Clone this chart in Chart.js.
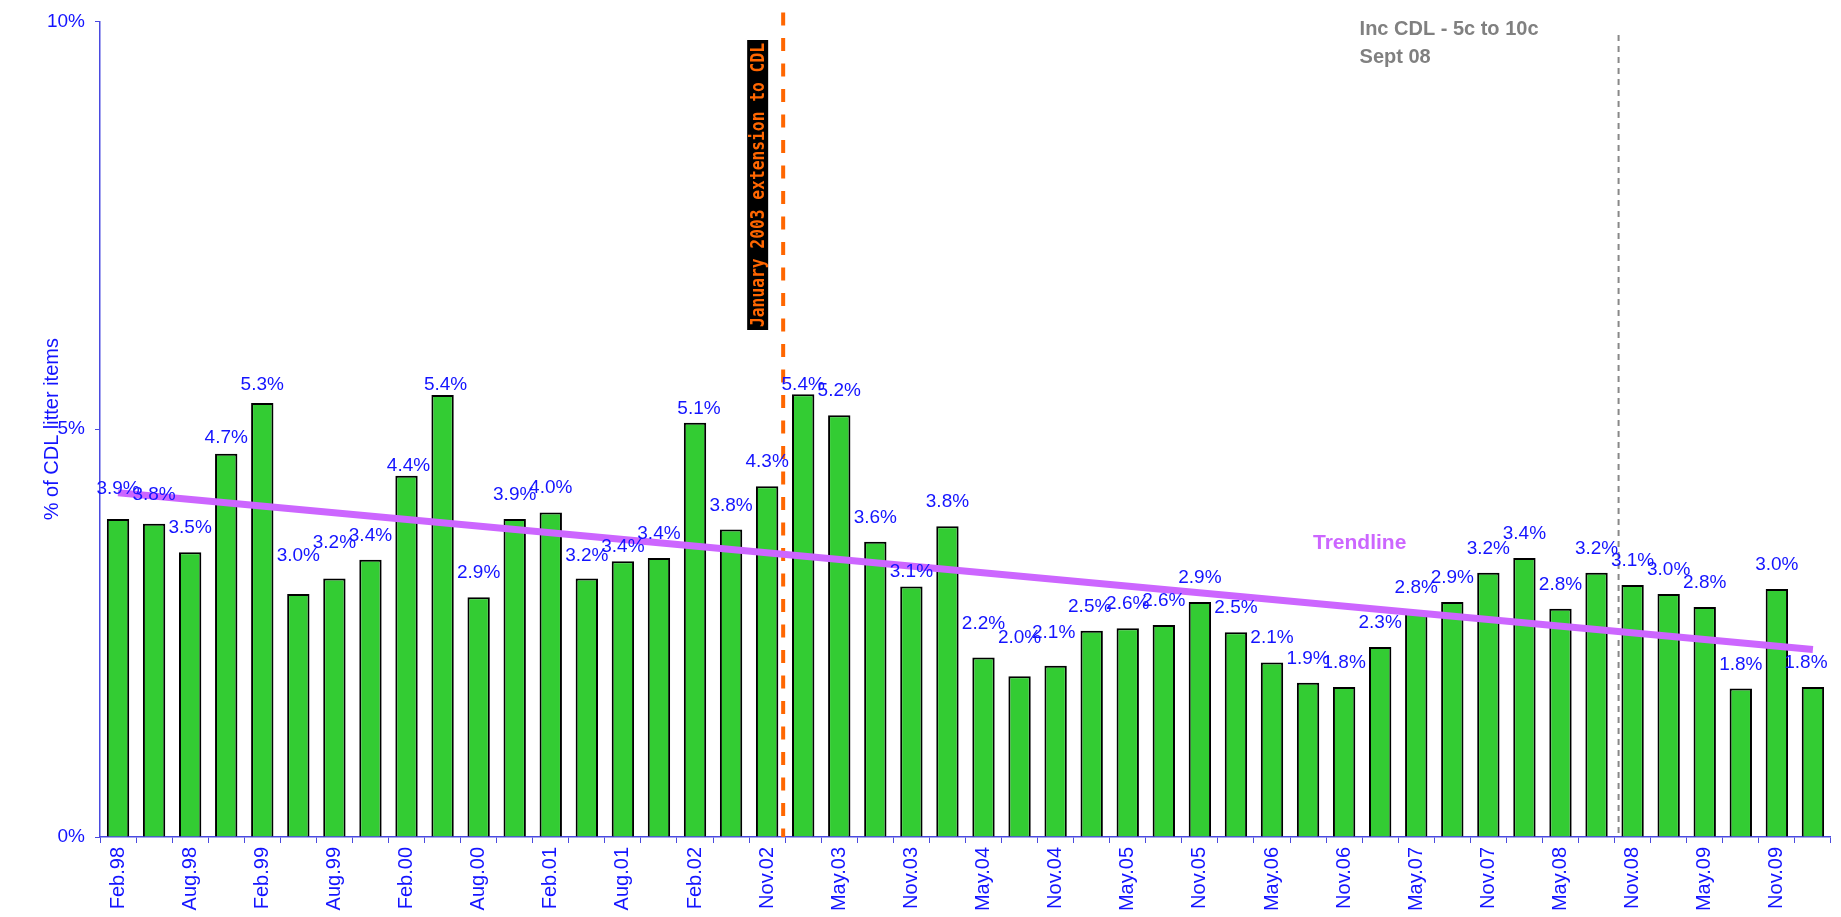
<!DOCTYPE html>
<html>
<head>
<meta charset="utf-8">
<script src="https://cdn.jsdelivr.net/npm/chart.js@4.4.1/dist/chart.umd.min.js"></script>
<style>
  html, body { margin: 0; padding: 0; background: #fff; }
  #wrap { width: 1841px; height: 917px; }
</style>
</head>
<body>
<div id="wrap"><canvas id="chart" width="1841" height="917"></canvas></div>
<script>
// survey dates (only every second one is labelled on the axis)
const surveyLabels = [
  'Feb.98', 'May.98', 'Aug.98', 'Nov.98', 'Feb.99', 'May.99', 'Aug.99', 'Nov.99',
  'Feb.00', 'May.00', 'Aug.00', 'Nov.00', 'Feb.01', 'May.01', 'Aug.01', 'Nov.01',
  'Feb.02', 'Jun.02', 'Nov.02', 'Feb.03', 'May.03', 'Aug.03', 'Nov.03', 'Feb.04',
  'May.04', 'Aug.04', 'Nov.04', 'Feb.05', 'May.05', 'Aug.05', 'Nov.05', 'Feb.06',
  'May.06', 'Aug.06', 'Nov.06', 'Feb.07', 'May.07', 'Aug.07', 'Nov.07', 'Feb.08',
  'May.08', 'Aug.08', 'Nov.08', 'Feb.09', 'May.09', 'Aug.09', 'Nov.09', 'Feb.10'
];

// % of CDL litter items
const cdlShare = [
  3.90, 3.84, 3.49, 4.70, 5.32, 2.98, 3.17, 3.40, 4.43, 5.42, 2.94, 3.90,
  3.98, 3.17, 3.38, 3.42, 5.08, 3.77, 4.30, 5.43, 5.17, 3.62, 3.07, 3.81,
  2.20, 1.97, 2.10, 2.53, 2.56, 2.60, 2.88, 2.51, 2.14, 1.89, 1.84, 2.33,
  2.76, 2.88, 3.24, 3.42, 2.80, 3.24, 3.09, 2.98, 2.82, 1.82, 3.04, 1.84
];

// trendline end points, gaps are joined
const trendValues = surveyLabels.map(() => null);
trendValues[0] = 4.22;
trendValues[surveyLabels.length - 1] = 2.30;

const yTicks = [0, 5, 10];

const BLUE = '#1414ff';
const AXIS_BLUE = '#4a4ae0';
const FONT = '"Liberation Sans", Arial, sans-serif';

// hand-placed value labels in the original: [dx, dy] px from the default spot
const labelNudge = {
  0: [0, -6], 1: [0, -5], 3: [0, 8], 4: [0, 6], 5: [0, -14], 6: [0, -11],
  8: [2, 14], 9: [3, 14], 13: [0, 2], 14: [0, 10], 16: [4, 10], 19: [0, 15],
  22: [0, 9], 24: [0, -10], 25: [0, -14], 26: [-2, -9], 27: [-2, 0], 47: [-7, 0]
};

// bar value labels, event lines and notes
const overlayPlugin = {
  id: 'overlay',
  beforeDatasetsDraw(chart) {
    const ctx = chart.ctx;
    const x = chart.scales.x;
    const area = chart.chartArea;

    // January 2003 extension (between Nov.02 and Feb.03)
    const xJan = (x.getPixelForValue(18) + x.getPixelForValue(19)) / 2 - 2;
    ctx.save();
    ctx.strokeStyle = '#ff6600';
    ctx.lineWidth = 4;
    ctx.setLineDash([13, 12.5]);
    ctx.beginPath();
    ctx.moveTo(xJan, area.top - 9);
    ctx.lineTo(xJan, area.bottom);
    ctx.stroke();

    ctx.setLineDash([]);
    ctx.fillStyle = '#000';
    ctx.fillRect(xJan - 36, 40, 21, 290);
    ctx.translate(xJan - 25.5, 185);
    ctx.rotate(-Math.PI / 2);
    ctx.font = 'bold 20px "DejaVu Sans Mono"';
    const note = 'January 2003 extension to CDL';
    ctx.scale(284 / ctx.measureText(note).width, 1);
    ctx.fillStyle = '#ff6600';
    ctx.textAlign = 'center';
    ctx.textBaseline = 'middle';
    ctx.fillText(note, 0, 1);
    ctx.restore();

    // Sept 08 increase
    const xSep = (x.getPixelForValue(41) + x.getPixelForValue(42)) / 2 + 4;
    ctx.save();
    ctx.strokeStyle = '#888';
    ctx.lineWidth = 2;
    ctx.setLineDash([6, 5]);
    ctx.beginPath();
    ctx.moveTo(xSep, 35);
    ctx.lineTo(xSep, area.bottom);
    ctx.stroke();
    ctx.setLineDash([]);
    ctx.fillStyle = '#808080';
    ctx.font = 'bold 20px ' + FONT;
    ctx.textAlign = 'left';
    ctx.textBaseline = 'alphabetic';
    ctx.fillText('Inc CDL - 5c to 10c', xSep - 259, 35);
    ctx.fillText('Sept 08', xSep - 259, 63);
    ctx.restore();
  },
  afterDatasetsDraw(chart) {
    const ctx = chart.ctx;
    const bars = chart.getDatasetMeta(1).data;
    ctx.save();
    ctx.fillStyle = BLUE;
    ctx.font = '19px ' + FONT;
    ctx.textAlign = 'center';
    ctx.textBaseline = 'alphabetic';
    bars.forEach((bar, i) => {
      const [dx, dy] = labelNudge[i] || [0, 0];
      ctx.fillText(cdlShare[i].toFixed(1) + '%', bar.x + dx, bar.y - 19 + dy);
    });

    ctx.fillStyle = '#cc66ff';
    ctx.font = 'bold 21px ' + FONT;
    ctx.textAlign = 'left';
    ctx.fillText('Trendline', 1313, 549);
    ctx.restore();
  }
};

new Chart(document.getElementById('chart'), {
  type: 'bar',
  data: {
    labels: surveyLabels,
    datasets: [
      {
        type: 'line',
        label: 'Trendline',
        data: trendValues,
        borderColor: '#cc66ff',
        borderWidth: 7,
        pointRadius: 0,
        spanGaps: true,
        order: 0
      },
      {
        label: '% of CDL litter items',
        data: cdlShare,
        backgroundColor: '#33cc33',
        borderColor: '#000',
        borderWidth: 2,
        barPercentage: 0.62,
        categoryPercentage: 1,
        order: 1
      }
    ]
  },
  options: {
    responsive: false,
    animation: false,
    layout: { padding: { top: 16, right: 8, left: 0, bottom: 0 } },
    plugins: {
      legend: { display: false },
      tooltip: { enabled: false }
    },
    scales: {
      x: {
        afterFit: s => { s.height = 80; },
        grid: { drawOnChartArea: false, drawTicks: true, tickLength: 6, color: AXIS_BLUE },
        border: { color: AXIS_BLUE, width: 1.5 },
        ticks: {
          autoSkip: false,
          maxRotation: 90,
          minRotation: 90,
          padding: 4,
          color: BLUE,
          font: { family: FONT, size: 20 },
          callback: (v, i) => (i % 2 === 0 ? surveyLabels[i] : '')
        }
      },
      y: {
        min: 0,
        max: 10,
        afterFit: s => { s.width = 100; },
        afterBuildTicks: s => { s.ticks = yTicks.map(v => ({ value: v })); },
        grid: { drawOnChartArea: false, drawTicks: true, tickLength: 5, color: AXIS_BLUE },
        border: { color: AXIS_BLUE, width: 1.5 },
        ticks: {
          padding: 10,
          color: BLUE,
          font: { family: FONT, size: 19 },
          callback: v => v + '%'
        },
        title: {
          display: true,
          text: '% of CDL litter items',
          color: BLUE,
          font: { family: FONT, size: 20 },
          padding: { top: 40 }
        }
      }
    }
  },
  plugins: [overlayPlugin]
});
</script>
</body>
</html>
